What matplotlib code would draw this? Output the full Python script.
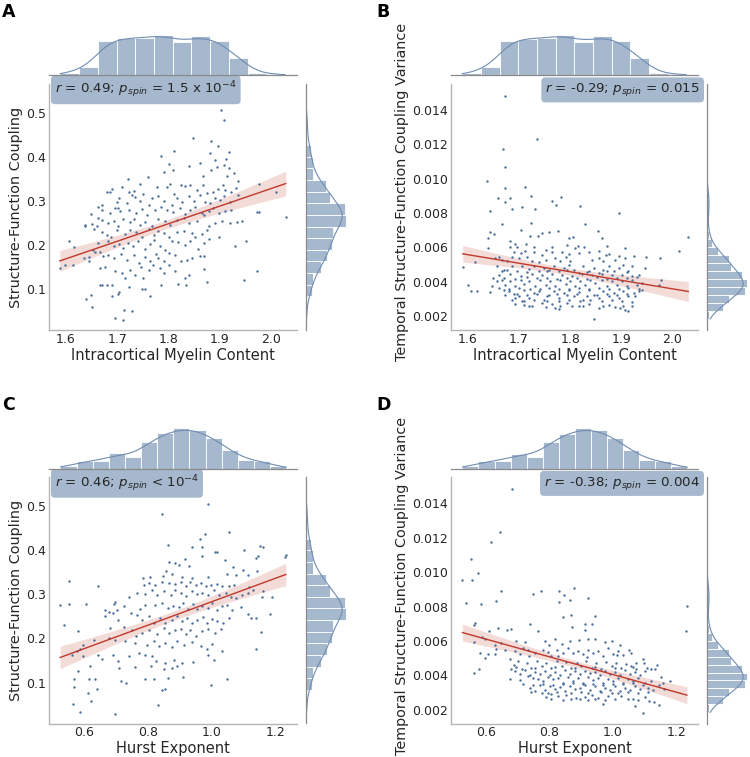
import numpy as np
import matplotlib
matplotlib.use("Agg")
import matplotlib.pyplot as plt

# ------------------------------------------------------------------ data
# Panel A: intracortical myelin vs structure-function coupling
myelin_a = [1.902,1.908,1.848,1.883,1.811,1.896,1.918,1.881,1.912,1.785,1.891,1.839,1.862,1.801,1.908,1.894,1.917,1.809,1.790,1.866,1.720,1.759,1.745,1.710,1.928,1.936,1.914,1.883,
            1.679,1.686,1.690,1.733,1.751,1.777,1.796,1.803,1.824,1.831,1.842,1.811,1.855,1.866,1.874,1.887,1.897,1.910,1.905,1.922,1.931,1.704,1.722,1.728,
            1.670,1.699,1.735,1.744,1.761,1.768,1.780,1.790,1.806,1.816,1.826,1.839,1.850,1.861,1.871,1.881,1.891,1.900,1.907,1.920,1.936,1.702,1.718,1.663,
            1.648,1.663,1.671,1.686,1.696,1.705,1.722,1.736,1.749,1.757,1.774,1.785,1.796,1.809,1.822,1.832,1.842,1.852,1.865,1.878,1.887,1.898,1.910,1.922,1.943,1.972,1.976,2.028,2.009,1.976,
            1.637,1.650,1.660,1.670,1.681,1.694,1.702,1.712,1.725,1.733,1.744,1.754,1.767,1.780,1.793,1.803,1.816,1.829,1.839,1.855,1.868,1.878,1.891,1.904,1.920,1.933,
            1.671,1.679,1.688,1.699,1.715,1.725,1.736,1.748,1.761,1.772,1.780,1.790,1.800,1.816,1.830,1.845,1.852,1.865,1.874,1.898,1.606,1.638,1.655,
            1.616,1.653,1.663,1.682,1.694,1.703,1.712,1.721,1.731,1.741,1.754,1.764,1.772,1.783,1.793,1.807,1.819,1.832,1.842,1.858,1.868,1.878,1.930,1.950,1.666,
            1.635,1.644,1.657,1.673,1.682,1.694,1.707,1.718,1.733,1.742,1.754,1.764,1.775,1.780,1.790,1.800,1.813,1.824,1.835,1.845,1.861,1.868,1.588,1.598,1.613,1.644,
            1.666,1.676,1.696,1.710,1.725,1.735,1.746,1.761,1.770,1.783,1.790,1.800,1.813,1.832,1.868,1.839,1.715,1.973,1.947,1.751,
            1.666,1.671,1.680,1.689,1.701,1.704,1.722,1.753,1.749,1.764,1.785,1.819,1.834,1.874,1.689,1.639,1.649,
            1.650,1.714,1.728,1.696,1.712]
coupling_a = [0.506,0.483,0.442,0.436,0.413,0.424,0.410,0.408,0.396,0.402,0.393,0.380,0.386,0.384,0.381,0.377,0.374,0.369,0.365,0.356,0.350,0.353,0.339,0.332,0.362,0.344,0.357,0.370,
              0.319,0.319,0.326,0.322,0.315,0.332,0.332,0.338,0.335,0.334,0.335,0.316,0.325,0.336,0.317,0.321,0.326,0.325,0.336,0.319,0.330,0.306,0.321,0.313,
              0.291,0.298,0.308,0.300,0.291,0.306,0.311,0.300,0.291,0.306,0.298,0.310,0.300,0.313,0.298,0.295,0.306,0.302,0.311,0.298,0.313,0.283,0.295,0.285,
              0.270,0.261,0.280,0.272,0.283,0.276,0.280,0.272,0.282,0.268,0.280,0.285,0.280,0.274,0.283,0.270,0.280,0.285,0.272,0.277,0.283,0.272,0.276,0.280,0.255,0.274,0.274,0.264,0.321,0.339,
              0.246,0.247,0.242,0.257,0.249,0.255,0.242,0.259,0.252,0.259,0.246,0.253,0.242,0.259,0.255,0.246,0.257,0.261,0.249,0.255,0.267,0.242,0.249,0.255,0.249,0.253,
              0.230,0.223,0.217,0.234,0.224,0.234,0.229,0.219,0.236,0.223,0.232,0.227,0.219,0.229,0.232,0.227,0.219,0.224,0.234,0.219,0.210,0.244,0.236,
              0.196,0.189,0.204,0.208,0.197,0.202,0.193,0.204,0.197,0.208,0.191,0.202,0.212,0.197,0.189,0.208,0.206,0.199,0.208,0.191,0.204,0.214,0.197,0.209,0.185,
              0.170,0.163,0.185,0.174,0.178,0.170,0.179,0.166,0.176,0.159,0.172,0.163,0.179,0.170,0.164,0.181,0.178,0.163,0.166,0.170,0.175,0.174,0.148,0.154,0.155,0.172,
              0.148,0.151,0.140,0.136,0.144,0.132,0.149,0.144,0.155,0.148,0.136,0.155,0.140,0.125,0.146,0.132,0.125,0.141,0.121,0.125,
              0.110,0.108,0.110,0.110,0.089,0.093,0.104,0.101,0.099,0.083,0.110,0.111,0.108,0.116,0.085,0.077,0.086,
              0.060,0.053,0.051,0.034,0.030]

# Panel B: intracortical myelin vs temporal coupling variance (variance in units of 1e-3)
myelin_b = [1.672,1.735,1.668,1.673,1.637,1.673,1.711,1.658,1.682,1.724,1.673,1.643,1.686,1.706,1.731,1.765,1.772,1.782,1.820,1.895,1.667,1.724,1.703,1.830,1.854,2.031,2.012,
            1.644,1.651,1.640,1.721,1.737,1.745,1.758,1.776,1.797,1.805,1.862,1.683,1.692,1.682,1.696,1.714,1.729,1.815,1.794,1.810,1.828,1.765,1.753,1.640,1.873,1.908,
            1.690,1.703,1.712,1.729,1.745,1.765,1.784,1.798,1.817,1.836,1.856,1.870,1.875,1.895,1.924,1.949,1.975,1.653,1.660,1.667,1.677,1.686,1.700,1.716,1.726,1.739,1.752,1.771,1.781,1.791,1.800,1.843,1.856,1.865,1.888,1.908,
            1.590,1.614,1.657,1.666,1.677,1.686,1.696,1.706,1.719,1.729,1.739,1.748,1.758,1.768,1.778,1.787,1.797,1.807,1.817,1.826,1.836,1.846,1.856,1.865,1.875,1.885,1.895,1.904,1.914,1.921,1.934,1.947,1.649,
            1.601,1.656,1.667,1.673,1.683,1.693,1.703,1.709,1.719,1.732,1.742,1.752,1.761,1.771,1.781,1.791,1.800,1.810,1.820,1.830,1.839,1.849,1.862,1.872,1.882,1.891,1.901,1.911,1.921,1.930,1.940,1.974,1.978,1.647,
            1.607,1.618,1.644,1.670,1.680,1.690,1.700,1.709,1.719,1.729,1.739,1.748,1.758,1.768,1.778,1.787,1.797,1.807,1.817,1.826,1.836,1.846,1.856,1.865,1.875,1.885,1.895,1.904,1.914,1.924,1.934,1.940,1.693,1.706,
            1.693,1.709,1.726,1.745,1.765,1.771,1.781,1.794,1.817,1.836,1.856,1.875,1.898,1.908,1.921,1.914,1.778,1.846,
            1.660,1.683,1.703,1.725,1.745,1.765,1.784,1.804,1.823,1.843,1.862,1.882,1.901,1.921,
            1.670,1.693,1.716,1.735,1.755,1.774,1.794,1.813,1.833,1.852,1.872,1.891,1.911,1.930,
            1.660,1.680,1.700,1.722,1.742,1.758,1.778,1.797,1.817,1.836,1.856,1.875,1.895,1.914,1.934,
            1.673,1.696,1.716,1.735,1.755,1.774,1.794,1.813,1.833,1.852,1.872,1.891,1.911,1.927,
            1.686,1.709,1.729,1.755,1.778,1.797,1.820,1.839,1.862,1.882,1.901,1.921,
            1.719,1.752,1.804,1.826,1.865,1.888,1.904,
            1.670,1.716,1.755,1.794,1.833,1.872,1.911]
variance_b = np.array([14.78,12.29,11.71,10.68,9.89,9.47,9.53,8.89,8.89,9.01,8.66,8.14,8.22,8.33,8.23,8.70,8.47,8.91,8.39,8.00,7.35,7.44,7.02,7.39,6.98,6.63,5.82,
            6.88,6.77,6.52,6.69,6.69,6.83,6.92,6.96,6.56,6.63,6.57,6.38,6.21,6.05,6.05,6.21,6.05,6.09,6.15,5.96,6.02,6.02,5.86,5.98,6.09,5.98,
            5.71,5.67,5.80,5.73,5.57,5.73,5.76,5.63,5.67,5.73,5.78,5.57,5.61,5.53,5.53,5.42,5.36,5.38,5.42,5.28,5.22,5.47,5.38,5.47,5.24,5.13,5.28,5.38,5.24,5.47,5.19,5.28,5.38,5.19,5.28,5.38,
            4.88,5.13,4.90,4.61,4.70,4.90,4.61,4.90,4.74,4.90,4.61,4.80,4.70,4.90,4.61,4.80,4.99,4.70,4.51,4.90,4.61,4.80,4.51,4.70,4.90,4.61,4.80,4.99,4.61,4.90,4.41,4.80,4.22,
            3.80,4.03,4.12,3.83,4.03,3.74,4.12,3.87,4.03,3.74,4.12,3.83,4.03,3.74,4.12,3.89,4.03,3.74,4.03,3.83,4.12,3.93,4.09,3.78,4.03,3.83,4.03,3.74,4.12,3.83,3.93,3.83,4.12,3.74,
            3.45,3.49,3.39,3.55,3.45,3.31,3.16,3.55,3.06,3.35,3.49,2.97,3.26,3.45,3.06,3.35,3.55,3.16,3.39,2.97,3.55,3.26,3.06,3.45,3.16,3.35,3.06,3.45,3.16,3.35,3.45,3.55,3.06,2.87,
            2.73,2.68,2.62,2.77,2.72,2.45,2.58,2.77,2.62,2.73,2.48,2.68,2.48,2.39,2.62,2.29,2.43,1.85,
            4.41,4.45,4.36,4.43,4.38,4.46,4.40,4.35,4.44,4.39,4.47,4.37,4.42,4.36,
            4.22,4.18,4.26,4.20,4.24,4.17,4.25,4.21,4.19,4.27,4.16,4.23,4.20,4.26,
            3.62,3.58,3.64,3.60,3.57,3.63,3.59,3.61,3.65,3.58,3.62,3.60,3.57,3.63,3.59,
            3.24,3.29,3.21,3.27,3.19,3.30,3.23,3.28,3.20,3.25,3.31,3.22,3.27,3.18,
            2.93,2.88,2.95,2.90,2.86,2.94,2.89,2.92,2.87,2.96,2.91,2.85,
            2.60,2.55,2.62,2.57,2.59,2.54,2.61,
            4.66,4.58,4.63,4.68,4.57,4.64,4.60]) * 1e-3

# Panel C: Hurst exponent vs structure-function coupling
hurst_c = [0.989,0.846,1.055,0.980,0.964,0.863,0.940,0.971,1.102,1.151,1.163,1.011,1.016,1.233,1.231,1.147,1.139,0.917,0.969,1.042,0.885,0.898,0.868,0.929,1.069,1.100,1.050,1.078,1.115,1.144,0.847,0.858,0.877,0.908,0.940,0.990,0.786,0.809,0.554,0.646,1.160,
           0.788,0.803,0.824,0.845,0.866,0.887,0.903,0.919,0.934,0.950,0.966,0.982,1.000,1.018,1.034,1.055,1.071,1.118,1.130,
           0.699,0.694,0.741,0.767,0.793,0.814,0.830,0.851,0.872,0.887,0.903,0.919,0.938,0.955,0.971,0.990,1.008,1.024,1.045,1.060,1.076,1.097,1.116,1.158,1.189,
           0.526,0.554,0.606,0.667,0.678,0.690,0.704,0.725,0.749,0.777,0.793,0.822,0.845,0.864,0.879,0.898,0.910,0.927,0.942,0.955,0.971,0.990,1.003,1.018,1.034,1.050,1.065,1.092,1.116,1.123,1.141,1.183,
           0.538,0.667,0.707,0.767,0.782,0.803,0.819,0.840,0.856,0.875,0.892,0.908,0.924,0.940,0.955,0.973,0.987,1.003,1.018,1.036,1.055,
           0.583,0.683,0.725,0.751,0.764,0.782,0.803,0.830,0.851,0.868,0.885,0.903,0.919,0.934,0.950,0.969,0.990,1.011,1.029,1.155,
           0.596,0.633,0.678,0.699,0.730,0.761,0.798,0.819,0.835,0.854,0.875,0.892,0.913,0.940,0.966,0.987,1.003,1.032,1.139,
           0.562,0.578,0.589,0.597,0.646,0.657,0.690,0.707,0.741,0.772,0.793,0.814,0.826,0.856,0.882,0.908,0.942,0.990,1.008,
           0.618,0.711,0.759,0.812,0.851,0.877,0.892,0.581,0.568,0.617,0.636,0.717,0.732,0.793,0.819,0.864,0.910,1.050,1.000,
           0.568,0.641,0.845,0.856,0.613,0.623,0.566,0.831,0.589,0.699]
coupling_c = [0.506,0.482,0.441,0.436,0.425,0.413,0.408,0.408,0.401,0.410,0.407,0.395,0.395,0.390,0.384,0.386,0.382,0.380,0.386,0.378,0.372,0.367,0.374,0.365,0.363,0.356,0.347,0.344,0.344,0.352,0.342,0.352,0.347,0.339,0.337,0.339,0.336,0.339,0.331,0.320,0.308,
              0.322,0.325,0.322,0.329,0.325,0.324,0.329,0.319,0.327,0.322,0.325,0.318,0.322,0.324,0.318,0.319,0.322,0.316,0.310,
              0.282,0.279,0.293,0.303,0.301,0.310,0.299,0.307,0.299,0.309,0.303,0.297,0.307,0.301,0.304,0.299,0.309,0.299,0.304,0.295,0.291,0.299,0.303,0.295,0.295,
              0.276,0.278,0.278,0.264,0.259,0.258,0.264,0.273,0.258,0.267,0.276,0.276,0.280,0.269,0.274,0.271,0.280,0.267,0.279,0.267,0.274,0.269,0.280,0.264,0.273,0.276,0.264,0.271,0.255,0.246,0.246,0.255,
              0.231,0.250,0.241,0.254,0.242,0.250,0.236,0.246,0.235,0.242,0.250,0.239,0.246,0.235,0.242,0.248,0.236,0.244,0.239,0.235,0.246,
              0.216,0.224,0.226,0.218,0.206,0.212,0.220,0.209,0.224,0.212,0.218,0.221,0.209,0.218,0.206,0.216,0.221,0.212,0.221,0.215,
              0.184,0.196,0.201,0.197,0.193,0.190,0.186,0.193,0.182,0.190,0.181,0.193,0.186,0.191,0.182,0.175,0.188,0.171,0.177,
              0.163,0.171,0.175,0.160,0.163,0.154,0.163,0.148,0.160,0.167,0.163,0.160,0.148,0.144,0.152,0.144,0.146,0.163,0.152,
              0.137,0.133,0.135,0.137,0.131,0.133,0.137,0.126,0.108,0.109,0.107,0.103,0.099,0.108,0.108,0.111,0.113,0.108,0.095,
              0.089,0.086,0.084,0.086,0.077,0.059,0.052,0.049,0.033,0.029]

# Panel D: Hurst exponent vs temporal coupling variance (variance in units of 1e-3)
hurst_d = [0.684,0.644,0.617,0.553,0.575,0.556,0.527,0.648,0.537,0.584,0.632,0.749,0.775,0.831,0.878,0.846,0.865,0.830,0.923,1.233,0.844,0.868,0.945,0.566,0.562,0.610,0.640,0.668,0.680,0.741,0.766,0.872,0.911,0.933,0.914,1.229,
           0.587,0.598,0.564,0.629,0.648,0.697,0.723,0.786,0.800,0.818,0.839,0.865,0.893,0.922,0.945,0.975,0.996,1.022,1.050,1.095,1.140,1.153,1.181,1.161,1.144,
           0.582,0.598,0.608,0.629,0.634,0.661,0.676,0.692,0.708,0.718,0.734,0.755,0.781,0.797,0.807,0.826,0.844,0.860,0.875,0.891,0.907,0.922,0.938,0.954,0.969,0.985,1.001,1.016,1.032,1.058,1.074,1.098,
           0.680,0.690,0.703,0.715,0.729,0.742,0.763,0.776,0.791,0.807,0.823,0.839,0.854,0.870,0.886,0.901,0.917,0.933,0.948,0.964,0.980,0.996,1.011,1.027,1.043,1.058,1.074,1.121,1.132,0.579,0.564,
           0.676,0.708,0.734,0.750,0.765,0.781,0.797,0.812,0.828,0.844,0.860,0.875,0.891,0.907,0.922,0.938,0.954,0.969,0.985,1.001,1.016,1.032,1.048,1.064,1.079,1.100,1.121,1.158,
           0.739,0.755,0.771,0.786,0.802,0.818,0.833,0.849,0.865,0.880,0.896,0.912,0.928,0.943,0.959,0.975,0.990,1.006,1.022,1.037,1.053,1.069,1.085,1.111,1.126,
           0.776,0.791,0.807,0.828,0.854,0.883,0.896,0.912,0.933,0.954,0.985,1.006,1.027,1.064,1.100,1.113,1.130,1.144,1.069,1.095,0.969,
           0.692,0.723,0.755,0.786,0.818,0.849,0.880,0.912,0.943,0.975,1.006,1.037,1.069,1.100,
           0.708,0.739,0.771,0.802,0.833,0.865,0.896,0.928,0.959,0.990,1.022,1.053,1.085,
           0.718,0.750,0.781,0.812,0.844,0.875,0.907,0.938,0.969,1.001,1.032,1.064,1.095,
           0.744,0.797,0.823,0.870,0.901,0.922,0.964,0.996,1.016,1.048,1.079,1.111,
           0.807,0.844,0.870,0.922,0.943,0.975,1.048,1.079,
           0.697,0.755,0.818,0.880,0.943,1.006,1.064,1.106,
           0.736,0.828,0.920,1.014]
variance_d = np.array([14.84,12.35,11.77,10.74,9.92,9.55,9.52,8.91,8.23,8.16,8.35,8.70,8.89,8.91,9.05,8.68,8.39,8.25,8.51,8.02,7.40,7.50,7.46,7.03,6.91,6.55,6.78,6.64,6.68,7.01,6.55,6.82,6.64,7.01,7.01,6.58,
           6.25,6.10,5.91,5.75,5.86,5.98,5.94,6.00,5.75,6.10,5.81,6.00,6.06,6.10,6.14,5.91,6.00,5.75,5.48,4.93,4.60,3.92,3.69,3.22,3.44,
           5.32,5.03,5.26,5.22,5.52,5.48,4.93,5.42,5.22,5.61,5.48,5.32,5.46,5.36,5.13,5.48,5.32,5.56,5.28,5.42,5.22,5.48,5.32,5.42,5.13,5.56,5.22,5.42,5.17,5.32,4.74,4.74,
           4.39,4.58,4.84,4.39,4.74,4.45,4.84,4.55,4.74,4.45,4.84,4.55,4.78,4.45,4.74,4.55,4.84,4.45,4.70,4.39,4.78,4.55,4.74,4.45,4.64,4.55,4.39,4.39,4.35,4.39,4.16,
           3.81,3.73,3.96,3.86,3.81,3.67,3.92,3.77,3.86,3.57,3.92,3.67,3.86,3.57,3.92,3.71,3.86,3.57,3.81,3.67,3.86,3.57,3.81,3.67,3.86,3.57,3.67,3.57,
           3.28,3.09,3.42,3.15,3.38,3.19,3.34,3.09,3.38,3.19,3.28,3.42,3.15,3.38,3.09,3.28,3.15,3.38,3.09,3.28,3.15,3.38,3.19,3.28,3.15,
           2.99,2.76,2.89,2.80,2.84,2.70,2.64,2.76,2.84,2.70,2.80,2.60,2.80,2.64,2.76,2.51,2.45,2.25,2.21,1.83,2.31,
           4.25,4.29,4.21,4.27,4.19,4.30,4.23,4.28,4.20,4.26,4.22,4.31,4.18,4.24,
           4.06,4.02,4.09,4.04,4.00,4.08,4.05,4.11,4.01,4.07,4.03,4.10,4.04,
           3.50,3.46,3.52,3.45,3.49,3.53,3.47,3.51,3.44,3.50,3.48,3.54,3.46,
           3.01,2.97,3.03,2.96,3.02,2.98,3.04,2.95,3.00,3.03,2.97,3.01,
           2.62,2.58,2.64,2.57,2.61,2.59,2.63,2.56,
           4.48,4.42,4.50,4.44,4.47,4.41,4.49,4.43,
           5.10,5.15,5.08,5.16]) * 1e-3

# marginal histograms (counts per bin, equal-width bins over the given range)
myelin_hist_range = (1.589, 2.027)
myelin_hist_counts = [4, 12, 48, 51, 52, 56, 46, 54, 47, 24, 3, 2]
hurst_hist_range = (0.527, 1.234)
hurst_hist_counts = [5, 12, 13, 24, 19, 42, 55, 63, 60, 48, 29, 14, 12, 4]
coupling_hist_range = (0.0305, 0.5056)
coupling_hist_counts = [3, 1, 10, 11, 24, 33, 41, 42, 63, 61, 38, 32, 12, 11, 8, 3, 3, 3]
variance_hist_range = (0.00185, 0.0148)
variance_hist_counts = [5, 27, 38, 65, 68, 60, 41, 38, 19, 9, 5, 3, 2, 4, 5, 4, 2, 1, 0, 1, 0, 1, 1, 0, 0, 0, 0, 1]

panel_letters = ["A", "B", "C", "D"]
x_labels = ["Intracortical Myelin Content", "Intracortical Myelin Content", "Hurst Exponent", "Hurst Exponent"]
y_labels = ["Structure-Function Coupling", "Temporal Structure-Function Coupling Variance",
            "Structure-Function Coupling", "Temporal Structure-Function Coupling Variance"]
stat_texts = [r"$r$ = 0.49; $p_{spin}$ = 1.5 x 10$^{-4}$",
              r"$r$ = -0.29; $p_{spin}$ = 0.015",
              r"$r$ = 0.46; $p_{spin}$ < 10$^{-4}$",
              r"$r$ = -0.38; $p_{spin}$ = 0.004"]
x_ticks_myelin = [1.6, 1.7, 1.8, 1.9, 2.0]
x_ticks_hurst = [0.6, 0.8, 1.0, 1.2]
y_ticks_coupling = [0.1, 0.2, 0.3, 0.4, 0.5]
y_ticks_variance = [0.002, 0.004, 0.006, 0.008, 0.010, 0.012, 0.014]

# ------------------------------------------------------------------ style
SCATTER = "#4a6d9a"
BAR = "#a6b8cd"
KDE = "#6f8db2"
RED = "#c0392b"
SPINE = "#b5b5b5"
SPINE_M = "#8a8a8a"
TXT = "#262626"

W, H = 750, 757
fig = plt.figure(figsize=(W / 100, H / 100), dpi=100)


def rect(left, top, w, h):
    return [left / W, 1 - (top + h) / H, w / W, h / H]


def kde_counts(rng, counts, grid):
    counts = np.asarray(counts, float)
    edges = np.linspace(rng[0], rng[1], len(counts) + 1)
    centers = 0.5 * (edges[:-1] + edges[1:])
    n = counts.sum()
    w = counts / n
    mu = np.sum(w * centers)
    sd = np.sqrt(np.sum(w * (centers - mu) ** 2) + (edges[1] - edges[0]) ** 2 / 12)
    bw = sd * n ** (-0.2)
    dens = np.sum(w[:, None] * np.exp(-0.5 * ((grid[None, :] - centers[:, None]) / bw) ** 2), axis=0) / (bw * np.sqrt(2 * np.pi))
    return edges, dens * n * (edges[1] - edges[0])


def style_ticks(ax):
    ax.tick_params(length=0, pad=2, labelsize=9, colors=TXT)


panels = [
    dict(x=myelin_a, y=coupling_a, left=49, top=84, w=248, xlim=(1.567, 2.050), ylim=(0.007, 0.565),
         xt=x_ticks_myelin, yt=y_ticks_coupling, xh=(myelin_hist_range, myelin_hist_counts),
         yh=(coupling_hist_range, coupling_hist_counts), right=False, fmt="{:.1f}", yfmt="{:.1f}", ly=0.5),
    dict(x=myelin_b, y=variance_b, left=451, top=84, w=247, xlim=(1.567, 2.050), ylim=(0.0012, 0.0155),
         xt=x_ticks_myelin, yt=y_ticks_variance, xh=(myelin_hist_range, myelin_hist_counts),
         yh=(variance_hist_range, variance_hist_counts), right=True, fmt="{:.1f}", yfmt="{:.3f}", ly=0.56),
    dict(x=hurst_c, y=coupling_c, left=49, top=477.5, w=248, xlim=(0.491, 1.268), ylim=(0.007, 0.565),
         xt=x_ticks_hurst, yt=y_ticks_coupling, xh=(hurst_hist_range, hurst_hist_counts),
         yh=(coupling_hist_range, coupling_hist_counts), right=False, fmt="{:.1f}", yfmt="{:.1f}", ly=0.5),
    dict(x=hurst_d, y=variance_d, left=451, top=477.5, w=247, xlim=(0.491, 1.268), ylim=(0.0012, 0.0155),
         xt=x_ticks_hurst, yt=y_ticks_variance, xh=(hurst_hist_range, hurst_hist_counts),
         yh=(variance_hist_range, variance_hist_counts), right=True, fmt="{:.1f}", yfmt="{:.3f}", ly=0.56),
]

MAIN_H = 246
for i, p in enumerate(panels):
    mw = p["w"] / 5.8
    gap = 0.2 * mw
    ax = fig.add_axes(rect(p["left"], p["top"], p["w"], MAIN_H))
    axt = fig.add_axes(rect(p["left"], p["top"] - gap - mw, p["w"], mw))
    axr = fig.add_axes(rect(p["left"] + p["w"] + gap, p["top"], mw, MAIN_H))

    x = np.asarray(p["x"], float)
    y = np.asarray(p["y"], float)

    # regression with 95% CI
    slope, icpt = np.polyfit(x, y, 1)
    xs = np.linspace(x.min(), x.max(), 100)
    yfit = icpt + slope * xs
    n = len(x)
    res = y - (icpt + slope * x)
    s = np.sqrt(np.sum(res ** 2) / (n - 2))
    se = s * np.sqrt(1 / n + (xs - x.mean()) ** 2 / np.sum((x - x.mean()) ** 2))
    ax.fill_between(xs, yfit - 1.97 * se, yfit + 1.97 * se, color=RED, alpha=0.18, lw=0, zorder=1)
    ax.scatter(x, y, s=3, color=SCATTER, linewidths=0, zorder=2)
    ax.plot(xs, yfit, color=RED, lw=1.0, zorder=3)

    ax.set_xlim(*p["xlim"])
    ax.set_ylim(*p["ylim"])
    ax.set_xticks(p["xt"])
    ax.set_xticklabels([p["fmt"].format(v) for v in p["xt"]])
    ax.set_yticks(p["yt"])
    ax.set_yticklabels([p["yfmt"].format(v) for v in p["yt"]])
    style_ticks(ax)
    for sp in ["top", "right"]:
        ax.spines[sp].set_visible(False)
    for sp in ["left", "bottom"]:
        ax.spines[sp].set_color(SPINE)
        ax.spines[sp].set_linewidth(1.0)
    ax.set_xlabel(x_labels[i], fontsize=10.5, color=TXT, labelpad=1.5)
    ax.set_ylabel(y_labels[i], fontsize=10.4, color=TXT, labelpad=2)
    ax.yaxis.label.set_y(p["ly"])

    # stats box
    bbox = dict(boxstyle="round,pad=0.3", fc=BAR, ec="none")
    if p["right"]:
        ax.text(1.008, 0.976, stat_texts[i], transform=ax.transAxes, ha="right", va="center",
                fontsize=9.6, color=TXT, zorder=5, bbox=bbox)
    else:
        ax.text(0.024, 0.976, stat_texts[i], transform=ax.transAxes, ha="left", va="center",
                fontsize=9.6, color=TXT, zorder=5, bbox=bbox)

    # top marginal histogram
    rng, cnt = p["xh"]
    grid = np.linspace(rng[0], rng[1], 200)
    edges, kd = kde_counts(rng, cnt, grid)
    axt.bar(edges[:-1], cnt, width=np.diff(edges), align="edge", color=BAR, edgecolor="white", linewidth=0.6)
    axt.plot(grid, kd, color=KDE, lw=0.8)
    axt.set_xlim(*p["xlim"])
    axt.set_ylim(0, max(max(cnt), kd.max()) * 1.05)
    axt.set_xticks([]); axt.set_yticks([])
    for sp in ["top", "right", "left"]:
        axt.spines[sp].set_visible(False)
    axt.spines["bottom"].set_color(SPINE_M)
    axt.spines["bottom"].set_linewidth(0.9)

    # right marginal histogram
    rng, cnt = p["yh"]
    grid = np.linspace(rng[0], rng[1], 200)
    edges, kd = kde_counts(rng, cnt, grid)
    axr.barh(edges[:-1], cnt, height=np.diff(edges), align="edge", color=BAR, edgecolor="white", linewidth=0.6)
    axr.plot(kd, grid, color=KDE, lw=0.8)
    axr.set_ylim(*p["ylim"])
    axr.set_xlim(0, max(max(cnt), kd.max()) * 1.05)
    axr.set_xticks([]); axr.set_yticks([])
    for sp in ["top", "right", "bottom"]:
        axr.spines[sp].set_visible(False)
    axr.spines["left"].set_color(SPINE_M)
    axr.spines["left"].set_linewidth(0.9)

# panel letters
letter_pos = [(2, 3), (376, 3), (2, 396), (376, 396)]
for L, (lx, ly) in zip(panel_letters, letter_pos):
    fig.text(lx / W, 1 - ly / H, L, fontsize=12.5, fontweight="bold", color="black", ha="left", va="top")

fig.savefig("out.png", dpi=100)
